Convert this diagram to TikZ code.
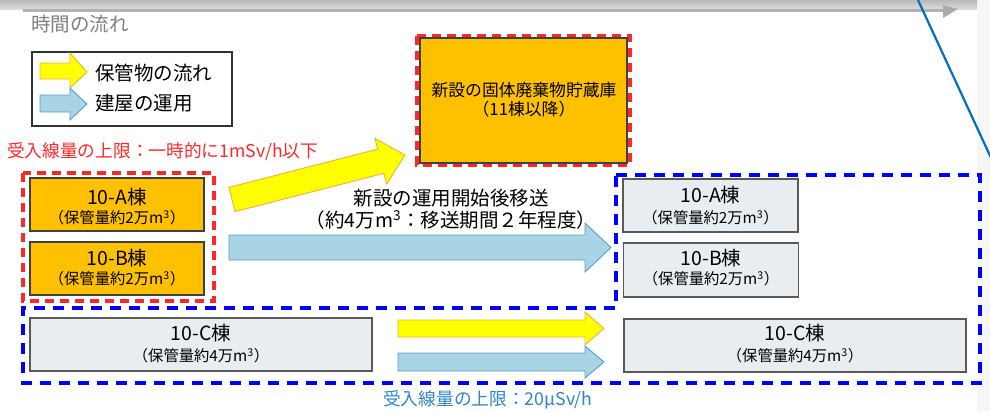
\documentclass[tikz,border=0pt]{standalone}
\usepackage{fontspec}
\setmainfont{Noto Sans CJK JP}
\definecolor{orangeF}{RGB}{255,192,0}
\definecolor{grayF}{RGB}{231,237,240}
\definecolor{yel}{RGB}{255,255,0}
\definecolor{yelD}{RGB}{240,176,60}
\definecolor{blu}{RGB}{168,212,230}
\definecolor{bluD}{RGB}{90,160,195}
\definecolor{redD}{RGB}{255,40,40}
\definecolor{bluDash}{RGB}{0,0,255}
\definecolor{bluTxt}{RGB}{46,134,200}
\definecolor{lineBlue}{RGB}{0,112,192}
\begin{document}
\begin{tikzpicture}[x=1bp,y=-1bp,
  obox/.style={draw=black!75, line width=1.3bp, fill=orangeF, inner sep=0pt},
  gbox/.style={draw=black!65, line width=1.4bp, fill=grayF, inner sep=0pt},
  yarrow/.style={fill=yel, draw=yelD, line width=0.9bp, line join=miter},
  barrow/.style={fill=blu, draw=bluD, line width=0.9bp, line join=miter},
  bigtxt/.style={font=\fontsize{19.5bp}{22bp}\selectfont, inner sep=0pt},
  smalltxt/.style={font=\fontsize{15.3bp}{17bp}\selectfont, inner sep=0pt},
  midtxt/.style={font=\fontsize{16.8bp}{19bp}\selectfont, inner sep=0pt},
  reddash/.style={draw=redD, line width=3.2bp, dash pattern=on 9bp off 6bp},
  bluedash/.style={draw=bluDash, line width=3.4bp, dash pattern=on 11bp off 8bp},
]
\useasboundingbox (0,0) rectangle (990,411);
\fill[white] (0,0) rectangle (990,411);
% right light strip
\fill[gray!7] (977,0) rectangle (990,411);
% top time bar
\shade[top color=gray!55, bottom color=gray!28] (0,0) rectangle (977,9);
\fill[gray!60] (23,8.5) rectangle (944,12);
\fill[gray!65] (943,5) -- (958,9) -- (943,18) -- cycle;
\node[bigtxt, text=black!50, anchor=west] (tflow) at (31,24) {時間の流れ};
% blue diagonal line
\coordinate (l1) at (918,0);
\coordinate (l2) at (992,160);
\draw[lineBlue, line width=2.2bp] (l1) -- (l2);

% legend
\node[draw=black!80, line width=1.4bp, minimum width=200bp, minimum height=74bp, inner sep=0pt] (legend) at (132,89) {};
\draw[yarrow] (40,63) -- (70,63) -- (70,53) -- (87,72) -- (70,88) -- (70,79) -- (40,79) -- cycle;
\draw[barrow] (40,95) -- (70,95) -- (70,88) -- (87,104) -- (70,120) -- (70,112) -- (40,112) -- cycle;
\node[bigtxt, anchor=west] (leg1) at (95,73) {保管物の流れ};
\node[bigtxt, anchor=west] (leg2) at (95,103) {建屋の運用};

% red limit text
\node[font=\fontsize{17.7bp}{20bp}\selectfont, text=redD, anchor=west, inner sep=0pt] (redlim) at (7,152) {受入線量の上限：一時的に1mSv/h以下};

% new storage
\draw[reddash] (417,36) rectangle (630,165);
\node[obox, minimum width=207bp, minimum height=125bp] (newst) at (523.5,100.5) {};
\node[midtxt] (newst1) at (524,90) {新設の固体廃棄物貯蔵庫};
\node[midtxt] (newst2) at (524,109) {（11棟以降）};

% left A/B
\draw[reddash] (23,173) rectangle (214,301);
\node[obox, minimum width=174bp, minimum height=53bp] (A1) at (117,204.5) {};
\node[bigtxt] (A1t) at (117,197) {10-A棟};
\node[smalltxt] (A1s) at (117,217.5) {（保管量約2万m\textsuperscript{3}）};
\node[obox, minimum width=174bp, minimum height=53bp] (B1) at (117,268.5) {};
\node[bigtxt] (B1t) at (117,258) {10-B棟};
\node[smalltxt] (B1s) at (117,278.5) {（保管量約2万m\textsuperscript{3}）};

% blue dashed L region
\draw[bluedash] (616,175) -- (980,175) -- (980,383) -- (23,383) -- (23,308) -- (616,308) -- cycle;

% left C
\node[gbox, minimum width=342bp, minimum height=53bp] (C1) at (201,344.5) {};
\node[bigtxt] (C1t) at (201,333) {10-C棟};
\node[smalltxt] (C1s) at (201,355.5) {（保管量約4万m\textsuperscript{3}）};

% right boxes
\node[gbox, minimum width=175bp, minimum height=53bp] (A2) at (710.5,205.5) {};
\node[bigtxt] (A2t) at (710.5,195) {10-A棟};
\node[smalltxt] (A2s) at (710.5,217.5) {（保管量約2万m\textsuperscript{3}）};
\node[gbox, minimum width=175bp, minimum height=54bp] (B2) at (711,270) {};
\node[bigtxt] (B2t) at (711,258) {10-B棟};
\node[smalltxt] (B2s) at (711,278.5) {（保管量約2万m\textsuperscript{3}）};
\node[gbox, minimum width=342bp, minimum height=53bp] (C2) at (795,345.5) {};
\node[bigtxt] (C2t) at (795,333) {10-C棟};
\node[smalltxt] (C2s) at (795,355.5) {（保管量約4万m\textsuperscript{3}）};

% diagonal yellow arrow
\draw[yarrow] (228.9,187.4) -- (377.7,149.1) -- (374.9,138.4) -- (405,155) -- (386.7,184.0) -- (383.9,173.3) -- (235.1,211.6) -- cycle;
% big blue arrow
\draw[barrow] (229,235) -- (585,235) -- (585,223) -- (611,247.5) -- (585,272) -- (585,260) -- (229,260) -- cycle;
\node[bigtxt] (tr1) at (451,198) {新設の運用開始後移送};
\node[bigtxt] (tr2) at (451,220) {（約4万m\textsuperscript{3}：移送期間２年程度）};

% lower arrows
\draw[yarrow] (398,320) -- (585,320) -- (585,312) -- (604,328.5) -- (585,345) -- (585,337) -- (398,337) -- cycle;
\draw[barrow] (398,353) -- (585,353) -- (585,346) -- (604,362) -- (585,378) -- (585,371) -- (398,371) -- cycle;

% bottom blue text
\node[font=\fontsize{17.7bp}{20bp}\selectfont, text=bluTxt, anchor=west, inner sep=0pt] (bluelim) at (383,400) {受入線量の上限：20μSv/h};
\end{tikzpicture}
\end{document}
